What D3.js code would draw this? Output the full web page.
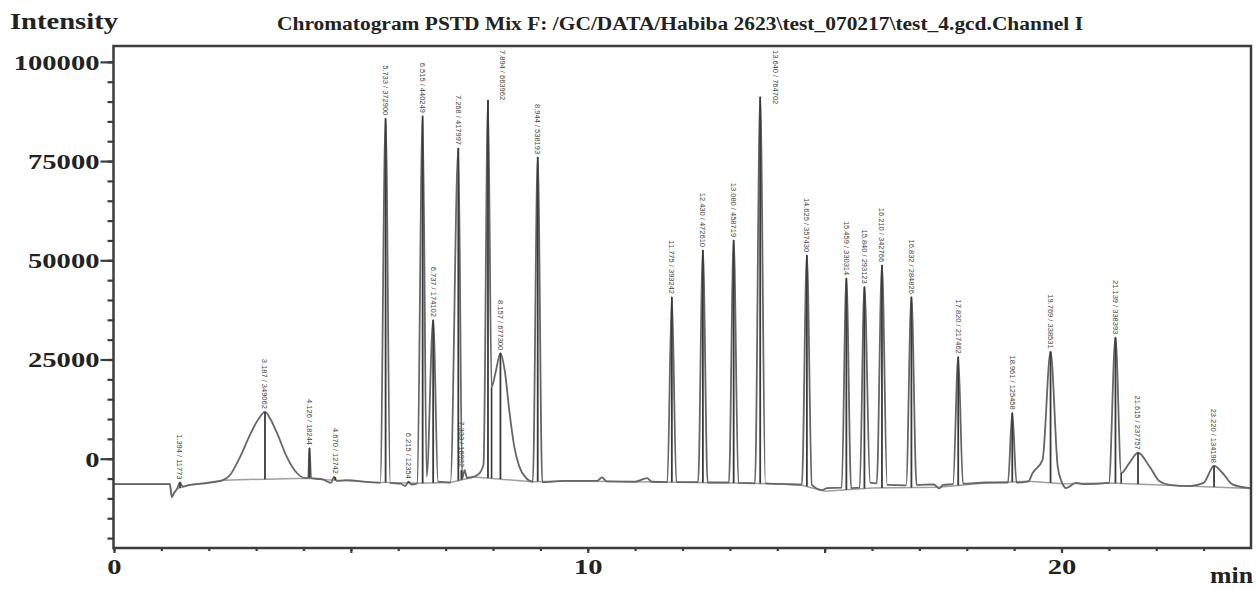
<!DOCTYPE html>
<html><head><meta charset="utf-8">
<script src="https://cdn.jsdelivr.net/npm/d3@7"></script>
<style>body{margin:0;background:#fff;} svg{display:block;}</style>
</head><body>
<svg id="chart" width="1258" height="590"></svg>
<script>
// ---------------- data ----------------
const traceTime = [0.00,1.18,1.22,1.27,1.33,1.394,1.45,1.60,2.00,2.30,2.45,2.66,2.87,3.05,3.187,3.30,3.44,3.65,3.86,4.05,4.10,4.126,4.16,4.40,4.58,4.64,4.70,4.90,5.40,5.62,5.733,5.83,6.05,6.15,6.215,6.28,6.40,6.515,6.60,6.737,6.84,7.10,7.268,7.35,7.40,7.45,7.60,7.72,7.80,7.894,7.97,8.05,8.157,8.25,8.35,8.45,8.55,8.70,8.84,8.944,9.04,9.50,10.20,10.30,10.40,11.00,11.25,11.35,11.68,11.775,11.87,12.33,12.43,12.53,12.98,13.08,13.18,13.53,13.64,13.75,14.20,14.52,14.625,14.73,14.95,15.05,15.36,15.459,15.56,15.74,15.84,15.96,16.10,16.21,16.32,16.72,16.832,16.94,17.30,17.42,17.50,17.71,17.82,17.92,18.40,18.87,18.961,19.05,19.30,19.39,19.60,19.769,19.92,20.00,20.10,20.30,20.50,21.00,21.139,21.26,21.43,21.615,21.86,22.07,22.28,22.70,23.00,23.22,23.40,23.60,23.90,24.00];
const traceIntensity = [-6400,-6400,-9650,-8600,-7600,-6000,-7000,-6600,-6100,-5400,-4100,400,6000,10000,11800,10000,6500,400,-3600,-4900,-4800,2700,-4900,-5200,-6100,-4600,-5600,-5400,-5900,-6100,85800,-6100,-6300,-6900,-5800,-6500,-6200,86400,-4500,35000,-5800,-6000,78300,-5000,-2900,-4800,-4500,-3600,-1500,90400,18000,21500,26600,22000,11500,3000,-1800,-4900,-5800,76000,-5900,-5600,-5600,-4700,-5700,-5800,-4900,-5800,-5900,40750,-5900,-5900,52600,-6000,-6000,55100,-6100,-6200,91200,-6200,-6400,-6500,51300,-6600,-7900,-7400,-7300,45500,-7400,-7300,43350,-6000,-6200,48800,-6600,-6700,40800,-6600,-6500,-7500,-6600,-6400,25700,-6300,-6000,-6000,11600,-6000,-5700,-3600,-300,27000,-2000,-5700,-7400,-6100,-6400,-6100,30600,-3600,-1100,1500,-2000,-5700,-6600,-6900,-6100,-1800,-3600,-6400,-7300,-7400];

const baselineTime = [0.00,1.18,1.22,1.33,1.60,2.30,4.08,4.50,5.40,6.40,7.10,7.60,8.84,9.50,11.00,13.50,14.50,15.00,16.00,17.40,18.40,19.30,20.05,21.00,24.00];
const baselineIntensity = [-6400,-6400,-9650,-7600,-6600,-5400,-4900,-5300,-5900,-6200,-6000,-4600,-5800,-5600,-5800,-6200,-6600,-8200,-7400,-7200,-6100,-5700,-6300,-6100,-7500];

const peakTimes = [1.394,3.187,4.126,4.670,5.733,6.215,6.515,6.737,7.268,7.333,7.894,8.157,8.944,11.775,12.430,13.080,13.640,14.625,15.459,15.840,16.210,16.832,17.820,18.961,19.769,21.139,21.615,23.220];
const peakHeights = [-6000,11800,2700,-4600,85800,-5800,86400,35000,78300,-2900,90400,26600,76000,40750,52600,55100,91200,51300,45500,43350,48800,40800,25700,11600,27000,30600,1500,-1800];
const peakAreas = ["11773","349062","18244","12742","372900","12354","440249","174102","417997","16932","663962","677300","538193","393242","472610","458719","764702","357430","330314","293123","342766","284826","217462","125458","338531","338393","237757","134198"];

const valleyTimes = [7.97, 21.26];

const yTickValues = [0, 25000, 50000, 75000, 100000];
const xTickLabels = [0, 10, 20];

const titleText = "Chromatogram PSTD Mix F: /GC/DATA/Habiba 2623\\test_070217\\test_4.gcd.Channel I";
const yAxisTitle = "Intensity";
const xAxisTitle = "min";

// ---------------- layout ----------------
const L = 114, R = 1251, T = 46, B = 548;
const svg = d3.select("#chart");
const x = d3.scaleLinear().domain([0, 24]).range([L, R]);
const y = d3.scaleLinear().domain([-22500, 104000]).range([B, T]);

const serif = "'Liberation Serif','Times New Roman',serif";

function interp(ts, vs, t) {
  const i = d3.bisectLeft(ts, t);
  if (i <= 0) return vs[0];
  if (i >= ts.length) return vs[vs.length - 1];
  const f = (t - ts[i - 1]) / (ts[i] - ts[i - 1]);
  return vs[i - 1] + f * (vs[i] - vs[i - 1]);
}

svg.append("clipPath").attr("id", "clip").append("rect")
  .attr("x", L).attr("y", T).attr("width", R - L).attr("height", B - T);

const g = svg.append("g").attr("clip-path", "url(#clip)");

// baseline (lighter)
const baseData = baselineTime.map((t, i) => [t, baselineIntensity[i]]);
g.append("path").datum(baseData)
  .attr("fill", "none").attr("stroke", "#a0a0a0").attr("stroke-width", 1.5)
  .attr("d", d3.line().x(d => x(d[0])).y(d => y(d[1])));

// trace
const traceData = traceTime.map((t, i) => [t, traceIntensity[i]]);
g.append("path").datum(traceData)
  .attr("fill", "none").attr("stroke", "#666").attr("stroke-width", 1.8)
  .attr("stroke-linejoin", "round")
  .attr("d", d3.line().curve(d3.curveMonotoneX).x(d => x(d[0])).y(d => y(d[1])));

// apex drop lines
g.selectAll("line.drop").data(peakTimes).join("line").attr("class", "drop")
  .attr("x1", d => x(d)).attr("x2", d => x(d))
  .attr("y1", (d, i) => y(peakHeights[i]))
  .attr("y2", d => y(interp(baselineTime, baselineIntensity, d)))
  .attr("stroke", "#3a3a3a").attr("stroke-width", 1.8);

// valley drop lines
g.selectAll("line.valley").data(valleyTimes).join("line").attr("class", "valley")
  .attr("x1", d => x(d)).attr("x2", d => x(d))
  .attr("y1", d => y(interp(traceTime, traceIntensity, d)))
  .attr("y2", d => y(interp(baselineTime, baselineIntensity, d)))
  .attr("stroke", "#3a3a3a").attr("stroke-width", 1.6);

// peak labels
const labG = svg.append("g");
peakTimes.forEach((t, i) => {
  const txt = t.toFixed(3) + " / " + peakAreas[i];
  const px = x(t), py = y(peakHeights[i]) - 3;
  const el = labG.append("text")
    .attr("font-family", "'Liberation Sans',Arial,sans-serif")
    .attr("font-size", 7.5).attr("fill", "#444")
    .attr("dy", "0.35em").text(txt);
  const len = el.node().getComputedTextLength();
  if (py - len < T + 3) {
    el.attr("text-anchor", "start").attr("transform", `translate(${px + 15},${T + 4}) rotate(90)`);
  } else {
    el.attr("text-anchor", "end").attr("transform", `translate(${px},${py}) rotate(90)`);
  }
});

// frame
svg.append("rect").attr("x", L - 0.5).attr("y", T).attr("width", R - L + 0.5).attr("height", B - T)
  .attr("fill", "none").attr("stroke", "#3c3c3c").attr("stroke-width", 2.5);

function stretch(sel, k) {
  sel.each(function () {
    const w = this.getComputedTextLength();
    d3.select(this).attr("textLength", w * k).attr("lengthAdjust", "spacingAndGlyphs");
  });
}

// y axis: minor ticks
const yMinor = d3.range(-20000, 100001, 5000);
const yMinG = svg.append("g").attr("transform", `translate(${L - 0.5},0)`)
  .call(d3.axisLeft(y).tickValues(yMinor).tickSize(6).tickFormat(""));
const yMajG = svg.append("g").attr("transform", `translate(${L - 0.5},0)`)
  .call(d3.axisLeft(y).tickValues(yTickValues).tickSize(13).tickPadding(1).tickFormat(d3.format("d")));
[yMinG, yMajG].forEach(a => { a.select(".domain").remove(); a.selectAll("line").attr("stroke", "#3c3c3c").attr("stroke-width", 2.2); });
yMajG.selectAll("text").attr("font-family", serif).attr("font-weight", "bold")
  .attr("font-size", 22).attr("fill", "#222").attr("dy", "0.34em");
stretch(yMajG.selectAll("text"), 1.3);

// x axis: minor ticks every minute, longer every 5
const xMinG = svg.append("g").attr("transform", `translate(0,${B})`)
  .call(d3.axisBottom(x).tickValues(d3.range(0, 24, 1)).tickSize(3).tickFormat(""));
const xMajG = svg.append("g").attr("transform", `translate(0,${B})`)
  .call(d3.axisBottom(x).tickValues(d3.range(0, 24, 5)).tickSize(5).tickFormat(""));
const xLabG = svg.append("g").attr("transform", `translate(0,${B})`)
  .call(d3.axisBottom(x).tickValues(xTickLabels).tickSize(0).tickPadding(10).tickFormat(d3.format("d")));
[xMinG, xMajG, xLabG].forEach(a => { a.select(".domain").remove(); a.selectAll("line").attr("stroke", "#3c3c3c").attr("stroke-width", 2.2); });
xLabG.selectAll("text").attr("font-family", serif).attr("font-weight", "bold")
  .attr("font-size", 22).attr("fill", "#222");
stretch(xLabG.selectAll("text"), 1.3);

// titles
svg.append("text").attr("x", 10).attr("y", 29)
  .attr("font-family", serif).attr("font-weight", "bold").attr("font-size", 23).attr("fill", "#222")
  .attr("textLength", 108).attr("lengthAdjust", "spacingAndGlyphs").text(yAxisTitle);
svg.append("text").attr("x", 277).attr("y", 30)
  .attr("font-family", serif).attr("font-weight", "bold").attr("font-size", 18.5).attr("fill", "#222")
  .attr("textLength", 806).attr("lengthAdjust", "spacingAndGlyphs").text(titleText);
svg.append("text").attr("x", 1210).attr("y", 583)
  .attr("font-family", serif).attr("font-weight", "bold").attr("font-size", 23).attr("fill", "#222")
  .attr("textLength", 43).attr("lengthAdjust", "spacingAndGlyphs").text(xAxisTitle);
</script>
</body></html>
